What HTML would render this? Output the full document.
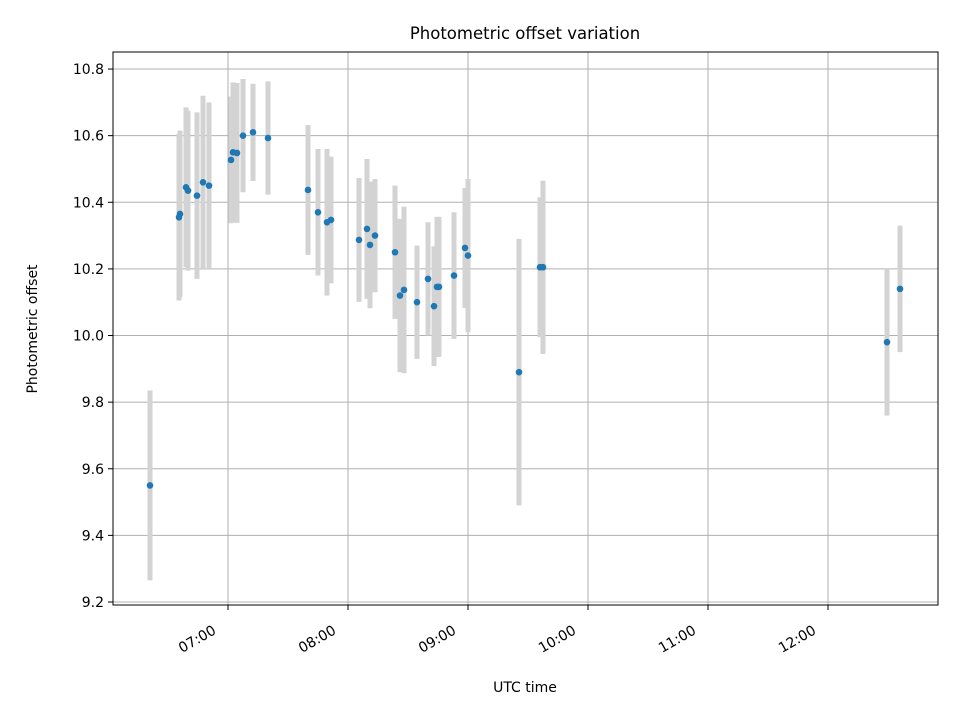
<!DOCTYPE html>
<html><head><meta charset="utf-8"><style>
body{margin:0;background:#fff}
svg text{font-family:"DejaVu Sans","Liberation Sans",sans-serif;fill:#000}
</style></head><body>
<svg id="chart" width="960" height="720" viewBox="0 0 960 720">
<rect width="960" height="720" fill="#fff"/>
<g id="grid"></g>
<g id="bars"></g>
<g id="pts"></g>
<rect x="113" y="52" width="825" height="553" fill="none" stroke="#000" stroke-width="1"/>
<g id="ticks"></g>
<text x="525" y="39" font-size="16.5" text-anchor="middle">Photometric offset variation</text>
<text x="525" y="692" font-size="14" text-anchor="middle">UTC time</text>
<text x="37" y="329" font-size="14" text-anchor="middle" transform="rotate(-90,37,329)">Photometric offset</text>
</svg>
<script>
// times in minutes since midnight UTC
const times=[381,395.5,396,399,400,404.5,407.5,410.5,421.5,422.5,424.5,427.5,432.5,440,460,465,469.5,471.5,485.5,489.5,491,493.5,503.5,506,508,514.5,520,523,524.5,525.5,533,538.5,540,565.5,576,577.5,749.5,756];
const values=[9.55,10.355,10.365,10.445,10.435,10.42,10.46,10.45,10.527,10.55,10.548,10.6,10.61,10.593,10.437,10.37,10.34,10.347,10.287,10.32,10.272,10.30,10.25,10.12,10.137,10.1,10.17,10.088,10.146,10.146,10.18,10.263,10.24,9.89,10.205,10.205,9.98,10.14];
const errors=[0.285,0.25,0.25,0.24,0.24,0.25,0.26,0.25,0.19,0.21,0.21,0.17,0.146,0.17,0.195,0.19,0.22,0.19,0.186,0.21,0.19,0.17,0.2,0.23,0.25,0.17,0.17,0.18,0.21,0.21,0.19,0.18,0.23,0.4,0.21,0.26,0.22,0.19];
const xTicks=[420,480,540,600,660,720];
const xTickLabels=["07:00","08:00","09:00","10:00","11:00","12:00"];
const yTicks=[9.2,9.4,9.6,9.8,10.0,10.2,10.4,10.6,10.8];
const yTickLabels=["9.2","9.4","9.6","9.8","10.0","10.2","10.4","10.6","10.8"];

const X=t=>228+(t-420)*2;
const Y=v=>602-(v-9.2)*333.1;
const NS="http://www.w3.org/2000/svg";
function mk(tag,attrs,parent){const e=document.createElementNS(NS,tag);for(const k in attrs)e.setAttribute(k,attrs[k]);parent.appendChild(e);return e;}
const grid=document.getElementById('grid'),ticks=document.getElementById('ticks'),bars=document.getElementById('bars'),pts=document.getElementById('pts');
xTicks.forEach((t,i)=>{
  const x=X(t);
  const g=mk('line',{x1:x,x2:x,y1:52,y2:605,stroke:'#b0b0b0','stroke-width':1},grid);
  
  
  const tk=mk('line',{x1:x,x2:x,y1:605,y2:610,stroke:'#000','stroke-width':1},ticks);
  
  
  const ax=x-11, ay=633;
  const tx=mk('text',{x:ax,y:ay,'font-size':14,'text-anchor':'end',transform:`rotate(-30,${ax},${ay})`},ticks);
  tx.textContent=xTickLabels[i];
  
  
});
yTicks.forEach((v,i)=>{
  const y=Y(v);
  const g=mk('line',{x1:113,x2:938,y1:y,y2:y,stroke:'#b0b0b0','stroke-width':1},grid);
  
  
  const tk=mk('line',{x1:108,x2:113,y1:y,y2:y,stroke:'#000','stroke-width':1},ticks);
  
  
  const tx=mk('text',{x:104,y:y+5,'font-size':14,'text-anchor':'end'},ticks);
  tx.textContent=yTickLabels[i];
  
  
});
times.forEach((t,i)=>{
  const x=X(t);
  const b=mk('line',{x1:x,x2:x,y1:Y(values[i]+errors[i]),y2:Y(values[i]-errors[i]),stroke:'#d3d3d3','stroke-width':5},bars);
  
  
});
times.forEach((t,i)=>{
  const c=mk('circle',{cx:X(t),cy:Y(values[i]),r:3.3,fill:'#1f77b4'},pts);
  
  
});
</script>
</body></html>
